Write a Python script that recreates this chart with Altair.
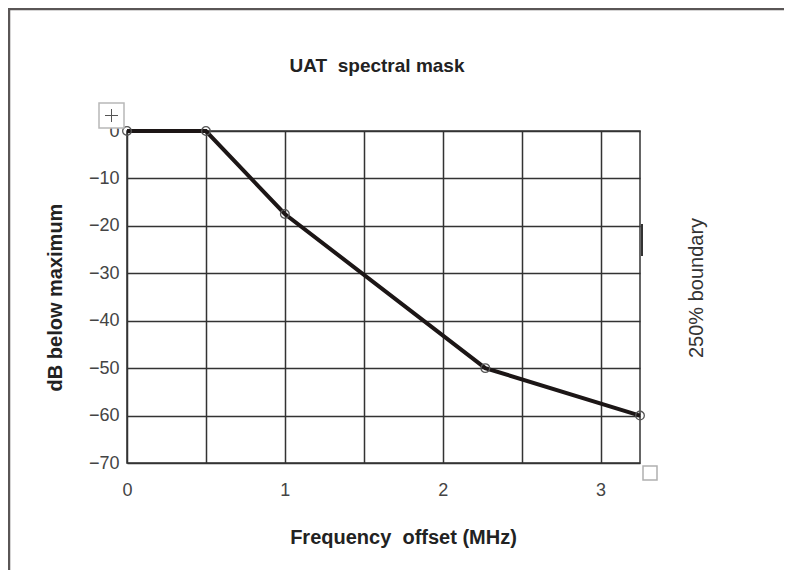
import altair as alt
import pandas as pd

# Data
freq_mhz = [0.0, 0.5, 1.0, 2.27, 3.25]
db_below = [0.0, 0.0, -17.5, -50.0, -60.0]
x_grid = [0, 0.5, 1, 1.5, 2, 2.5, 3]
y_ticks = [-70, -60, -50, -40, -30, -20, -10, 0]

df = pd.DataFrame({"f": freq_mhz, "db": db_below})

FONT = "Liberation Sans"
GRID = "#333333"

x_enc = alt.X(
    "f:Q",
    scale=alt.Scale(domain=[0, 3.25], nice=False, zero=False),
    axis=alt.Axis(
        values=x_grid,
        labelExpr="datum.value % 1 == 0 ? format(datum.value, 'd') : ''",
        title="Frequency\u00a0 offset (MHz)",
        titleX=276,
        titleY=80,
        titleBaseline="alphabetic",
        titleFontSize=20,
        titleFontWeight="bold",
        titleColor="#222222",
        labelFontSize=18,
        labelColor="#444444",
        labelPadding=18,
        labelFlush=False,
    ),
)
y_enc = alt.Y(
    "db:Q",
    scale=alt.Scale(domain=[-70, 0], nice=False),
    axis=alt.Axis(
        values=y_ticks,
        title="dB below maximum",
        titleX=-72,
        titleY=166,
        titleAngle=270,
        titleAlign="center",
        titleBaseline="middle",
        titleFontSize=20,
        titleFontWeight="bold",
        titleColor="#222222",
        labelFontSize=18,
        labelColor="#444444",
        labelPadding=8,
    ),
)

line = alt.Chart(df).mark_line(color="#1c1616", strokeWidth=4).encode(x=x_enc, y=y_enc)
pts = alt.Chart(df).mark_point(
    filled=False, color="#555555", size=75, strokeWidth=1.3, opacity=1
).encode(x="f:Q", y="db:Q")

one = alt.Data(values=[{"k": 1}])

title_text = alt.Chart(one).mark_text(
    text="UAT\u00a0 spectral mask", fontSize=19, font=FONT, fontWeight="bold",
    color="#222222", align="center", baseline="alphabetic",
).encode(x=alt.value(250), y=alt.value(-59))

side_text = alt.Chart(one).mark_text(
    text="250% boundary", angle=270, fontSize=20, font=FONT, color="#333333",
    align="center", baseline="middle",
).encode(x=alt.value(570), y=alt.value(157))

small_bar = alt.Chart(one).mark_rule(color="#333333", strokeWidth=2).encode(
    x=alt.value(515), y=alt.value(93), y2=alt.value(125)
)

corner_box = alt.Chart(one).mark_rect(fill="white", stroke="#b0b0b0", strokeWidth=1.5).encode(
    x=alt.value(516), x2=alt.value(530), y=alt.value(335), y2=alt.value(349)
)

handle_box = alt.Chart(one).mark_rect(fill="white", stroke="#b8b8b8", strokeWidth=1.5).encode(
    x=alt.value(-28), x2=alt.value(-3), y=alt.value(-28), y2=alt.value(-3)
)
handle_h = alt.Chart(one).mark_rule(color="#555555", strokeWidth=1).encode(
    x=alt.value(-22), x2=alt.value(-9), y=alt.value(-15.5)
)
handle_v = alt.Chart(one).mark_rule(color="#555555", strokeWidth=1).encode(
    x=alt.value(-15.5), y=alt.value(-22), y2=alt.value(-9)
)

border_top = alt.Chart(one).mark_rule(color="#5a5656", strokeWidth=2.5).encode(
    x=alt.value(-119), x2=alt.value(680), y=alt.value(-122)
)
border_left = alt.Chart(one).mark_rule(color="#5a5656", strokeWidth=2.5).encode(
    x=alt.value(-118), y=alt.value(-123), y2=alt.value(460)
)

chart = alt.layer(
    line, pts, title_text, side_text, small_bar, corner_box, handle_box, handle_h, handle_v,
    border_top, border_left,
).properties(
    width=513,
    height=332,
    autosize=alt.AutoSizeParams(type="none"),
    padding={"left": 119, "top": 123, "right": 144, "bottom": 107},
).configure(
    font=FONT,
    background="white",
).configure_view(
    stroke=GRID, strokeWidth=1.5,
).configure_axis(
    grid=True, gridColor=GRID, gridWidth=1.5, gridOpacity=1,
    domain=False, ticks=False, labelFont=FONT, titleFont=FONT,
)

chart.save("out.html", embed_options={"renderer": "svg", "actions": False})
